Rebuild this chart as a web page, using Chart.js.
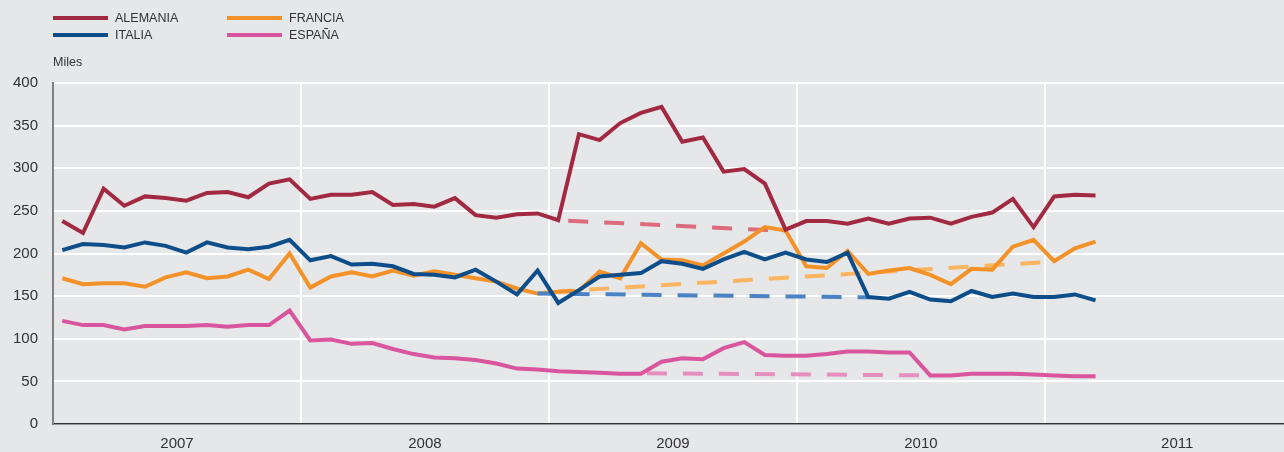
<!DOCTYPE html>
<html>
<head>
<meta charset="utf-8">
<script src="https://cdn.jsdelivr.net/npm/chart.js@4.4.0/dist/chart.umd.min.js"></script>
<style>
  body { margin: 0; background: #e6e7e9; font-family: "Liberation Sans", Arial, sans-serif; }
  #wrap { position: relative; width: 1284px; height: 452px; }
  .ley { position: absolute; font-size: 12.5px; color: #333; line-height: 14px; }
  .ley span { position: absolute; top: 5px; width: 55px; height: 4px; }
  .ley b { font-weight: normal; position: absolute; left: 62px; top: 0; white-space: nowrap; }
  #miles { position: absolute; left: 53px; top: 55px; font-size: 12.5px; color: #333; }
</style>
</head>
<body>
<div id="wrap">
  <div class="ley" style="left:53px;top:11px"><span style="background:#a12a42"></span><b>ALEMANIA</b></div>
  <div class="ley" style="left:227px;top:11px"><span style="background:#f39229"></span><b>FRANCIA</b></div>
  <div class="ley" style="left:53px;top:28px"><span style="background:#0d4e8a"></span><b>ITALIA</b></div>
  <div class="ley" style="left:227px;top:28px"><span style="background:#d9569e"></span><b>ESPAÑA</b></div>
  <div id="miles">Miles</div>
  <canvas id="grafica" width="1284" height="452"></canvas>
</div>
<script>
// Matriculaciones mensuales (miles), enero 2007 - marzo 2011
var anios = ['2007', '2008', '2009', '2010', '2011'];

var alemania = [238, 224, 276, 256, 267, 265, 262, 271, 272, 266, 282, 287,
    264, 269, 269, 272, 257, 258, 255, 265, 245, 242, 246, 247,
    239, 340, 333, 353, 365, 372, 331, 336, 296, 299, 282, 228,
    238, 238, 235, 241, 235, 241, 242, 235, 243, 248, 264, 231,
    267, 269, 268];
var francia = [171, 164, 165, 165, 161, 172, 178, 171, 173, 181, 170, 200,
    160, 173, 178, 173, 180, 174, 179, 175, 171, 167, 159, 153,
    155, 156, 179, 171, 212, 193, 192, 186, 200, 214, 231, 227,
    185, 183, 203, 176, 180, 183, 175, 164, 182, 181, 208, 216,
    191, 206, 214];
var italia = [204, 211, 210, 207, 213, 209, 201, 213, 207, 205, 208, 216,
    192, 197, 187, 188, 185, 176, 175, 172, 181, 167, 152, 180,
    142, 157, 173, 175, 177, 191, 188, 182, 193, 202, 193, 201,
    193, 190, 201, 149, 147, 155, 146, 144, 156, 149, 153, 149,
    149, 152, 145];
var espana = [121, 116, 116, 111, 115, 115, 115, 116, 114, 116, 116, 133,
    98, 99, 94, 95, 88, 82, 78, 77, 75, 71, 65, 64,
    62, 61, 60, 59, 59, 73, 77, 76, 89, 96, 81, 80,
    80, 82, 85, 85, 84, 84, 57, 57, 59, 59, 59, 58,
    57, 56, 56];

// Tendencias discontinuas: [mes, valor] inicial y final
var tendAlemania = [[24, 239], [35, 226.5]];
var tendFrancia = [[24, 155.5], [48, 190.5]];
var tendItalia = [[23, 153], [39, 148.6]];
var tendEspana = [[28, 59.6], [42, 57]];

function puntos(serie) {
    return serie.map(function (v, i) { return { x: i + 0.45, y: v }; });
}
function tramo(t) {
    return t.map(function (p) { return { x: p[0] + 0.45, y: p[1] }; });
}

function linea(etiqueta, datos, color) {
    return {
        label: etiqueta,
        data: datos,
        borderColor: color,
        borderWidth: 4,
        pointRadius: 0,
        tension: 0,
        fill: false
    };
}
function discontinua(etiqueta, datos, color, desfase) {
    var d = linea(etiqueta, datos, color);
    d.borderDash = [20, 16];
    d.borderDashOffset = desfase;
    d.borderCapStyle = 'butt';
    return d;
}

var fuente = { family: '"Liberation Sans", Arial, sans-serif', size: 15 };

new Chart(document.getElementById('grafica').getContext('2d'), {
    type: 'line',
    data: {
        datasets: [
            linea('ITALIA', puntos(italia), '#0d4e8a'),
            linea('ALEMANIA', puntos(alemania), '#a12a42'),
            discontinua('ITALIA tendencia', tramo(tendItalia), '#4a82c4', 4),
            linea('FRANCIA', puntos(francia), '#f39229'),
            linea('ESPAÑA', puntos(espana), '#d9569e'),
            discontinua('ALEMANIA tendencia', tramo(tendAlemania), '#dc6b7c', 26),
            discontinua('FRANCIA tendencia', tramo(tendFrancia), '#fbb560', 5),
            discontinua('ESPAÑA tendencia', tramo(tendEspana), '#e68fbf', 30)
        ]
    },
    options: {
        responsive: false,
        animation: false,
        layout: { padding: { top: 83, left: 0, right: 0, bottom: 0 } },
        plugins: { legend: { display: false }, tooltip: { enabled: false } },
        scales: {
            x: {
                type: 'linear',
                min: 0,
                max: 59.57,
                afterBuildTicks: function (s) {
                    // lineas de año cada 12 meses, etiquetas en medio del año
                    s.ticks = [0, 6, 12, 18, 24, 30, 36, 42, 48, 54.4].map(function (v) {
                        return { value: v };
                    });
                },
                afterFit: function (s) { s.height = 28; },
                ticks: {
                    autoSkip: false,
                    maxRotation: 0,
                    padding: 11,
                    color: '#333',
                    font: fuente,
                    callback: function (v, i) {
                        return i % 2 === 1 ? anios[(i - 1) / 2] : '';
                    }
                },
                grid: {
                    drawTicks: false,
                    lineWidth: 2,
                    color: function (ctx) {
                        var v = ctx.tick ? ctx.tick.value : 0;
                        return (v > 0 && v % 12 === 0) ? '#ffffff' : 'rgba(0,0,0,0)';
                    }
                },
                border: { color: '#333', width: 1.5 }
            },
            y: {
                min: 0,
                max: 400,
                afterFit: function (s) { s.width = 53; },
                ticks: { stepSize: 50, padding: 15, color: '#333', font: fuente },
                grid: { drawTicks: false, color: '#ffffff', lineWidth: 2 },
                border: { color: '#808080', width: 2 }
            }
        }
    }
});
</script>
</body>
</html>
